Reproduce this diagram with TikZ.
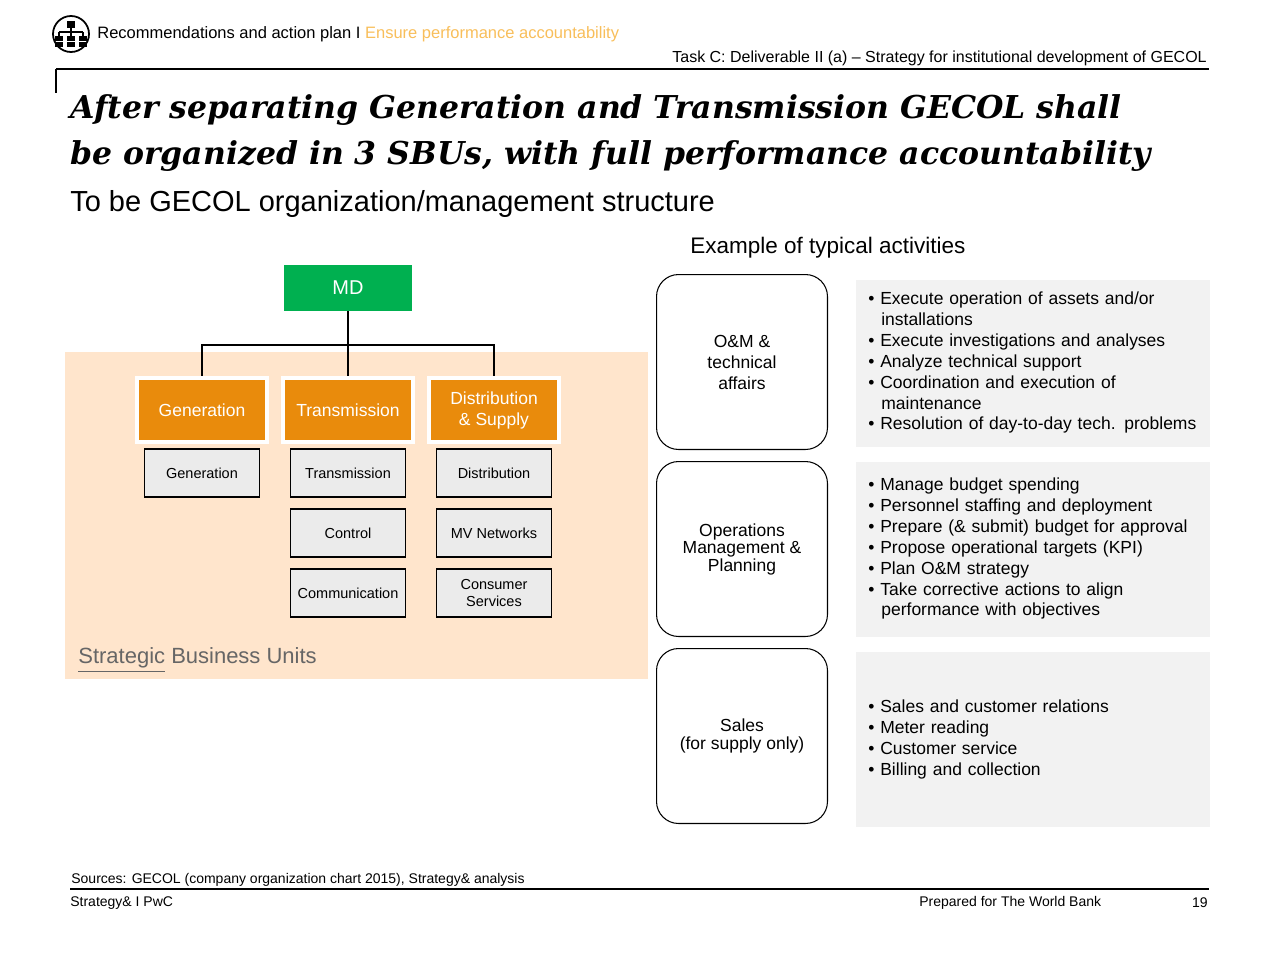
\documentclass[tikz,border=0pt]{standalone}
\usepackage{fontspec}
\setmainfont{Liberation Sans}
\newfontfamily\titlefont{DejaVu Serif}
\newlength{\px}\setlength{\px}{0.569pt}
\definecolor{sbuor}{RGB}{233,139,12}
\definecolor{mdgr}{RGB}{0,176,80}
\definecolor{hdor}{RGB}{248,190,90}
\begin{document}
\begin{tikzpicture}[x=0.02cm,y=-0.02cm,
  px/.style={font=\fontsize{#1\px}{\dimexpr #1\px*12/10\relax}\selectfont},
  org/.style={fill=sbuor,draw=white,line width=2.5pt,text=white,minimum width=130\px,minimum height=64\px,align=center,px=17.5,inner sep=0},
  sub/.style={fill=black!8,draw=black,line width=0.6pt,minimum width=115\px,minimum height=48\px,align=center,px=14.5,inner sep=0},
  cat/.style={draw=black,line width=0.6pt,rounded corners=22\px,minimum width=171\px,minimum height=175\px,align=center,px=17.5,inner sep=0},
  act/.style={anchor=north west,text width=340\px,px=17.5,inner sep=0,align=left},
  conn/.style={line width=1.2pt}]
\useasboundingbox (0,0) rectangle (1280,960);
% header icon
\node[circle,draw,line width=1pt,minimum size=36\px] (ic) at (71,34) {};
\fill (67,21) rectangle (75,28);
\draw[line width=0.8pt] (71,28)--(71,32) (59,32)--(83,32) (59,32)--(59,36) (71,32)--(71,36) (83,32)--(83,36);
\foreach \a in {-12,0,12} {\fill (71+\a-4,36) rectangle (71+\a+4,41); \fill (71+\a-4,42) rectangle (71+\a+4,47);}
\node[anchor=west,px=16.5,inner sep=0] (hd) at (97,34) {Recommendations and action plan I \textcolor{hdor}{Ensure performance accountability}};
\node[anchor=east,px=16,inner sep=0] (task) at (1207,58) {Task C: Deliverable II (a) -- Strategy for institutional development of GECOL};
\draw[line width=0.8pt] (56,69)--(1209,69);
\draw[line width=1.2pt] (56,69)--(56,93);
\node[anchor=north west,px=31.5,inner sep=0,align=left] (title) at (70,94) {\titlefont\bfseries\itshape After separating Generation and Transmission GECOL shall\\[5pt]\titlefont\bfseries\itshape be organized in 3 SBUs, with full performance accountability};
\node[anchor=west,px=29,inner sep=0] (st) at (70,204) {To be GECOL organization/management structure};
\node[anchor=west,px=22.5,inner sep=0] (ex) at (690,248) {Example of typical activities};
% SBU background
\fill[orange!20!white] (65,352) rectangle (648,679);
\node[anchor=west,px=22,inner sep=0,text=black!60] (sbu) at (78,660) {\underline{Strategic} Business Units};
% org chart
\node[fill=mdgr,minimum width=128\px,minimum height=46\px,text=white,px=20,inner sep=0] (md) at (348,288) {MD};
\node[org] (g) at (202,410) {Generation};
\node[org] (t) at (348,410) {Transmission};
\node[org] (d) at (494,410) {Distribution\\\& Supply};
\coordinate (j) at (348,345);
\draw[conn] (md.south)--(j);
\draw[conn] (g.north)--(202,345)--(494,345)--(d.north);
\draw[conn] (j)--(t.north);
\node[sub] (g1) at (202,473) {Generation};
\node[sub] (t1) at (348,473) {Transmission};
\node[sub] (t2) at (348,533) {Control};
\node[sub] (t3) at (348,593) {Communication};
\node[sub] (d1) at (494,473) {Distribution};
\node[sub] (d2) at (494,533) {MV Networks};
\node[sub] (d3) at (494,593) {Consumer\\Services};
% categories
\node[cat] (c1) at (742,362) {O\&M \&\\technical\\affairs};
\node[cat,font=\fontsize{17.5\px}{17.5\px}\selectfont] (c2) at (742,549) {Operations\\Management \&\\Planning};
\node[cat,font=\fontsize{17.5\px}{17.5\px}\selectfont] (c3) at (742,736) {Sales\\(for supply only)};
\fill[black!5] (856,280) rectangle (1210,447);
\fill[black!5] (856,462) rectangle (1210,637);
\fill[black!5] (856,652) rectangle (1210,827);
\def\bl#1{\hangindent=13\px\hangafter=1\noindent\hyphenpenalty=10000\textbullet\ #1\par}
\node[act] (a1) at (868,291) {\bl{Execute operation of assets and/or installations}\bl{Execute investigations and analyses}\bl{Analyze technical support}\bl{Coordination and execution of maintenance}\bl{Resolution of day-to-day tech. problems}};
\node[act] (a2) at (868,477) {\bl{Manage budget spending}\bl{Personnel staffing and deployment}\bl{Prepare (\& submit) budget for approval}\bl{Propose operational targets (KPI)}\bl{Plan O\&M strategy}\bl{Take corrective actions to align performance with objectives}};
\node[act] (a3) at (868,699) {\bl{Sales and customer relations}\bl{Meter reading}\bl{Customer service}\bl{Billing and collection}};
% footer
\node[anchor=west,px=14,inner sep=0] (src) at (71,880) {Sources: GECOL (company organization chart 2015), Strategy\& analysis};
\draw[line width=0.8pt] (70,889)--(1209,889);
\node[anchor=west,px=14,inner sep=0] (f1) at (70,903) {Strategy\& I PwC};
\node[anchor=west,px=14,inner sep=0] (f2) at (919,903) {Prepared for The World Bank};
\node[anchor=east,px=14,inner sep=0] (f3) at (1208,903) {19};
\end{tikzpicture}
\end{document}
